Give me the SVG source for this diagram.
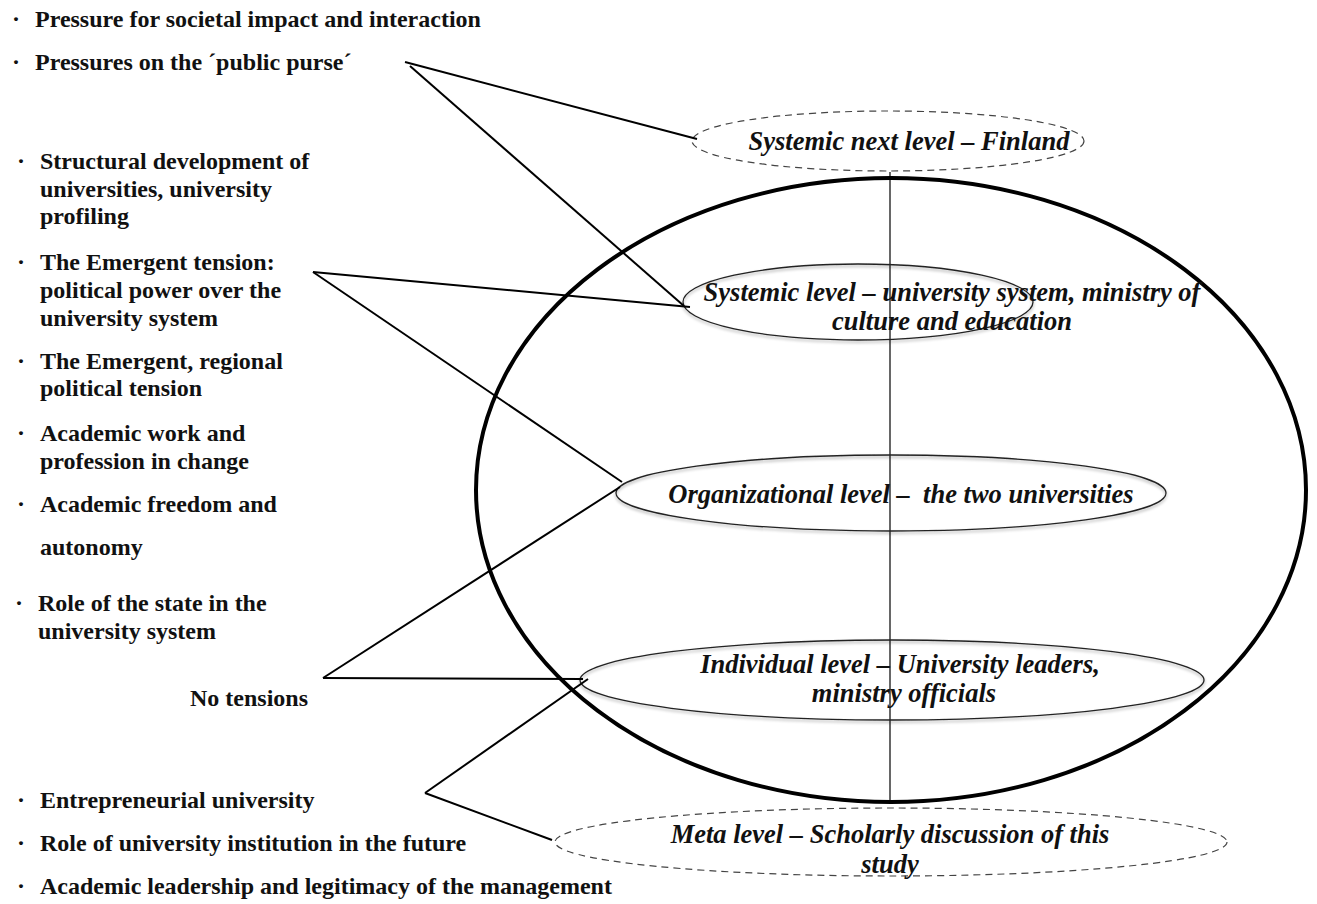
<svg xmlns="http://www.w3.org/2000/svg" width="1317" height="904" viewBox="0 0 1317 904">
  <style>
    .item { font-family: "Liberation Serif", "Times New Roman", serif; font-weight: bold; font-size: 24px; fill: #111; }
    .lvl { font-family: "Liberation Serif", "Times New Roman", serif; font-weight: bold; font-style: italic; font-size: 26.5px; fill: #111; text-anchor: middle; white-space: pre; }
    .solid { fill: none; stroke: #222; stroke-width: 1.3; }
    .dash { fill: none; stroke: #444; stroke-width: 1.2; stroke-dasharray: 7 5; }
    .conn line { stroke: #000; stroke-width: 2; }
  </style>
  <defs>
    <filter id="soft" x="-5%" y="-20%" width="110%" height="140%">
      <feDropShadow dx="0" dy="2" stdDeviation="1.5" flood-color="#000" flood-opacity="0.35"/>
    </filter>
  </defs>
  <rect width="1317" height="904" fill="#fff"/>

  <!-- outer frame: the university system -->
  <g id="frame">
    <ellipse cx="891" cy="490" rx="415" ry="312" fill="none" stroke="#000" stroke-width="4"/>
    <line x1="890" y1="172" x2="890" y2="802" stroke="#000" stroke-width="1.2"/>
  </g>

  <!-- level nodes -->
  <g id="next-level">
    <ellipse class="dash" cx="888" cy="141" rx="196" ry="30"/>
    <text class="lvl" x="909" y="150">Systemic next level – Finland</text>
  </g>
  <g id="systemic-level">
    <ellipse class="solid" cx="858" cy="302" rx="175" ry="38" filter="url(#soft)"/>
    <text class="lvl" x="952" y="301">Systemic level – university system, ministry of</text>
    <text class="lvl" x="952" y="330">culture and education</text>
  </g>
  <g id="organizational-level">
    <ellipse class="solid" cx="891" cy="493" rx="275" ry="38" filter="url(#soft)"/>
    <text class="lvl" x="901" y="503">Organizational level –&#160; the two universities</text>
  </g>
  <g id="individual-level">
    <ellipse class="solid" cx="892" cy="680" rx="312" ry="40" filter="url(#soft)"/>
    <text class="lvl" x="900" y="673">Individual level – University leaders,</text>
    <text class="lvl" x="904" y="702">ministry officials</text>
  </g>
  <g id="meta-level">
    <ellipse class="dash" cx="891" cy="842" rx="336" ry="34"/>
    <text class="lvl" x="890" y="843">Meta level – Scholarly discussion of this</text>
    <text class="lvl" x="890" y="873">study</text>
  </g>

  <!-- tension lists -->
  <g id="list-top">
    <text class="item" x="12" y="27">·</text><text class="item" x="35" y="27">Pressure for societal impact and interaction</text>
    <text class="item" x="12" y="70">·</text><text class="item" x="35" y="70">Pressures on the ´public purse´</text>
  </g>
  <g id="list-middle">
    <text class="item" x="17" y="169">·</text><text class="item" x="40" y="169">Structural development of</text>
    <text class="item" x="40" y="197">universities, university</text>
    <text class="item" x="40" y="224">profiling</text>
    <text class="item" x="17" y="270">·</text><text class="item" x="40" y="270">The Emergent tension:</text>
    <text class="item" x="40" y="298">political power over the</text>
    <text class="item" x="40" y="326">university system</text>
    <text class="item" x="17" y="369">·</text><text class="item" x="40" y="369">The Emergent, regional</text>
    <text class="item" x="40" y="396">political tension</text>
    <text class="item" x="17" y="441">·</text><text class="item" x="40" y="441">Academic work and</text>
    <text class="item" x="40" y="469">profession in change</text>
    <text class="item" x="17" y="512">·</text><text class="item" x="40" y="512">Academic freedom and</text>
    <text class="item" x="40" y="555">autonomy</text>
    <text class="item" x="15" y="611">·</text><text class="item" x="38" y="611">Role of the state in the</text>
    <text class="item" x="38" y="639">university system</text>
  </g>
  <g id="no-tensions">
    <text class="item" x="190" y="706">No tensions</text>
  </g>
  <g id="list-bottom">
    <text class="item" x="17" y="808">·</text><text class="item" x="40" y="808">Entrepreneurial university</text>
    <text class="item" x="17" y="851">·</text><text class="item" x="40" y="851">Role of university institution in the future</text>
    <text class="item" x="17" y="894">·</text><text class="item" x="40" y="894">Academic leadership and legitimacy of the management</text>
  </g>

  <!-- connectors -->
  <g id="connectors" class="conn">
    <line x1="405" y1="62" x2="697" y2="139"/>
    <line x1="410" y1="66" x2="684" y2="306"/>
    <line x1="313" y1="272" x2="690" y2="307"/>
    <line x1="313" y1="272" x2="622" y2="482"/>
    <line x1="323" y1="678" x2="620" y2="487"/>
    <line x1="323" y1="678" x2="583" y2="679"/>
    <line x1="425" y1="793" x2="588" y2="679"/>
    <line x1="425" y1="793" x2="552" y2="840"/>
  </g>
</svg>
